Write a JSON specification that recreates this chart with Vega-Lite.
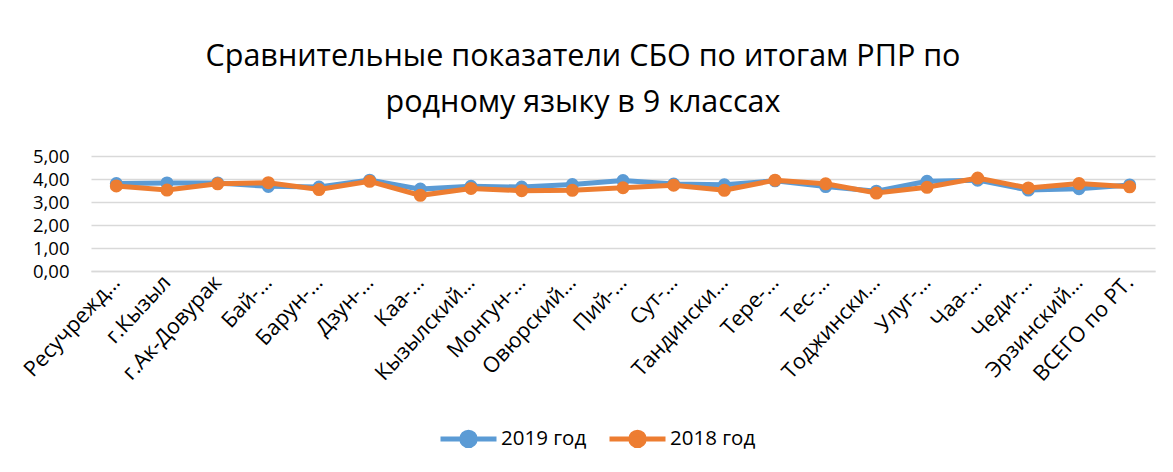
{
  "$schema": "https://vega.github.io/schema/vega-lite/v6.json",
  "width": 1064,
  "height": 115,
  "autosize": {"type": "none"},
  "padding": {"left": 91, "top": 156, "right": 18, "bottom": 201},
  "background": "white",
  "title": {
    "text": ["Сравнительные показатели СБО по итогам РПР по", "родному языку в 9 классах"],
    "font": "Open Sans",
    "fontSize": 30.5,
    "fontWeight": "normal",
    "color": "#000000",
    "anchor": "middle",
    "frame": "group",
    "dx": -40,
    "lineHeight": 46,
    "baseline": "bottom",
    "offset": -1
  },
  "config": {
    "view": {"stroke": null},
    "font": "Open Sans"
  },
  "datasets": {
    "rows": [
      {"region": "Ресучрежд…", "year": "2019 год", "value": 3.80},
      {"region": "г.Кызыл", "year": "2019 год", "value": 3.83},
      {"region": "г.Ак-Довурак", "year": "2019 год", "value": 3.83},
      {"region": "Бай-…", "year": "2019 год", "value": 3.68},
      {"region": "Барун-…", "year": "2019 год", "value": 3.65},
      {"region": "Дзун-…", "year": "2019 год", "value": 3.95},
      {"region": "Каа-…", "year": "2019 год", "value": 3.56},
      {"region": "Кызылский…", "year": "2019 год", "value": 3.68},
      {"region": "Монгун-…", "year": "2019 год", "value": 3.65},
      {"region": "Овюрский…", "year": "2019 год", "value": 3.76},
      {"region": "Пий-…", "year": "2019 год", "value": 3.93},
      {"region": "Сут-…", "year": "2019 год", "value": 3.78},
      {"region": "Тандински…", "year": "2019 год", "value": 3.75},
      {"region": "Тере-…", "year": "2019 год", "value": 3.92},
      {"region": "Тес-…", "year": "2019 год", "value": 3.67},
      {"region": "Тоджински…", "year": "2019 год", "value": 3.47},
      {"region": "Улуг-…", "year": "2019 год", "value": 3.90},
      {"region": "Чаа-…", "year": "2019 год", "value": 3.95},
      {"region": "Чеди-…", "year": "2019 год", "value": 3.52},
      {"region": "Эрзинский…", "year": "2019 год", "value": 3.58},
      {"region": "ВСЕГО по РТ.", "year": "2019 год", "value": 3.74},
      {"region": "Ресучрежд…", "year": "2018 год", "value": 3.70},
      {"region": "г.Кызыл", "year": "2018 год", "value": 3.52},
      {"region": "г.Ак-Довурак", "year": "2018 год", "value": 3.79},
      {"region": "Бай-…", "year": "2018 год", "value": 3.84},
      {"region": "Барун-…", "year": "2018 год", "value": 3.54},
      {"region": "Дзун-…", "year": "2018 год", "value": 3.90},
      {"region": "Каа-…", "year": "2018 год", "value": 3.29},
      {"region": "Кызылский…", "year": "2018 год", "value": 3.59},
      {"region": "Монгун-…", "year": "2018 год", "value": 3.49},
      {"region": "Овюрский…", "year": "2018 год", "value": 3.51},
      {"region": "Пий-…", "year": "2018 год", "value": 3.62},
      {"region": "Сут-…", "year": "2018 год", "value": 3.73},
      {"region": "Тандински…", "year": "2018 год", "value": 3.51},
      {"region": "Тере-…", "year": "2018 год", "value": 3.95},
      {"region": "Тес-…", "year": "2018 год", "value": 3.79},
      {"region": "Тоджински…", "year": "2018 год", "value": 3.39},
      {"region": "Улуг-…", "year": "2018 год", "value": 3.64},
      {"region": "Чаа-…", "year": "2018 год", "value": 4.04},
      {"region": "Чеди-…", "year": "2018 год", "value": 3.61},
      {"region": "Эрзинский…", "year": "2018 год", "value": 3.80},
      {"region": "ВСЕГО по РТ.", "year": "2018 год", "value": 3.66}
    ]
  },
  "data": {"name": "rows"},
  "encoding": {
    "x": {
      "field": "region",
      "type": "nominal",
      "sort": ["Ресучрежд…", "г.Кызыл", "г.Ак-Довурак", "Бай-…", "Барун-…", "Дзун-…", "Каа-…", "Кызылский…", "Монгун-…", "Овюрский…", "Пий-…", "Сут-…", "Тандински…", "Тере-…", "Тес-…", "Тоджински…", "Улуг-…", "Чаа-…", "Чеди-…", "Эрзинский…", "ВСЕГО по РТ."],
      "scale": {"type": "point", "padding": 0.5},
      "axis": {
        "title": null,
        "labelAngle": -47,
        "labelAlign": "right",
        "labelBaseline": "middle",
        "labelFont": "Open Sans",
        "labelFontSize": 21.5,
        "labelColor": "#000000",
        "labelPadding": 8,
        "ticks": false,
        "domain": true,
        "domainColor": "#D9D9D9",
        "domainWidth": 1.5,
        "grid": false,
        "labelOverlap": false,
        "labelLimit": 300
      }
    },
    "y": {
      "field": "value",
      "type": "quantitative",
      "scale": {"domain": [0, 5], "nice": false, "zero": true},
      "axis": {
        "title": null,
        "values": [0, 1, 2, 3, 4, 5],
        "labelExpr": "replace(format(datum.value, '.2f'), '.', ',')",
        "labelFont": "Open Sans",
        "labelFontSize": 18.5,
        "labelColor": "#000000",
        "labelPadding": 22,
        "ticks": false,
        "domain": false,
        "grid": true,
        "gridColor": "#D9D9D9",
        "gridWidth": 1.5
      }
    },
    "color": {
      "field": "year",
      "type": "nominal",
      "scale": {"domain": ["2019 год", "2018 год"], "range": ["#5B9BD5", "#ED7D31"]},
      "legend": {
        "title": null,
        "orient": "none",
        "direction": "horizontal",
        "legendX": 347,
        "legendY": 252,
        "symbolType": "M-1,0L1,0M0.24,0A0.24,0.24,0,1,1,-0.24,0A0.24,0.24,0,1,1,0.24,0Z",
        "symbolSize": 3136,
        "symbolStrokeWidth": 5,
        "labelFont": "Open Sans",
        "labelFontSize": 20.5,
        "labelColor": "#000000",
        "labelOffset": 2,
        "columnPadding": 12,
        "labelLimit": 300,
        "encode": {
          "symbols": {
            "update": {
              "fill": {"scale": "color", "field": "value"},
              "stroke": {"scale": "color", "field": "value"},
              "strokeWidth": {"value": 5},
              "opacity": {"value": 1}
            }
          }
        }
      }
    }
  },
  "layer": [
    {
      "transform": [{"filter": "datum.year === '2019 год'"}],
      "mark": {"type": "line", "strokeWidth": 5, "point": {"filled": true, "size": 170, "opacity": 1}}
    },
    {
      "transform": [{"filter": "datum.year === '2018 год'"}],
      "mark": {"type": "line", "strokeWidth": 5, "point": {"filled": true, "size": 170, "opacity": 1}}
    }
  ]
}
